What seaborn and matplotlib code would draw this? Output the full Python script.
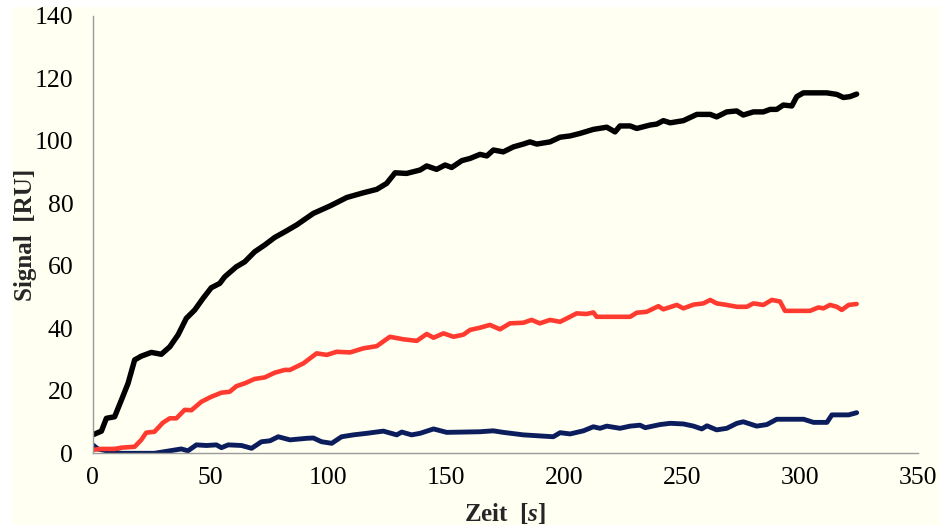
import matplotlib
matplotlib.use("Agg")
import matplotlib.pyplot as plt
import seaborn as sns
import pandas as pd
from matplotlib.patches import Rectangle

# ---- data ----
black_t = [0, 3.7, 5.8, 9.3, 12.2, 15, 17.8, 20.6, 24.9, 29.1, 32.7, 36.2, 39.7, 43.3,
           46.8, 50.3, 53.9, 56, 60.9, 64.5, 68.7, 73, 77.2, 81.5, 86.5, 93.6, 100.7,
           107.8, 114.8, 120.5, 124.7, 128.3, 133.2, 138.9, 141.7, 145.9, 149.5, 152.3,
           156.6, 160.1, 164.3, 167.2, 170, 174.2, 178.5, 182.7, 185.5, 188.4, 194,
           198.3, 202.5, 206.7, 212.4, 218.1, 221.6, 223.7, 228, 230.8, 236.5, 239.3,
           242.1, 245, 250.6, 256.3, 262, 264.7, 269, 273.2, 276, 280.3, 284.5, 287.4,
           290.2, 293, 296.6, 298.7, 301.5, 311.4, 315.7, 318.5, 321.3, 324.1]
black_v = [5.9, 7.1, 11.2, 11.7, 17.1, 22.4, 29.9, 31.1, 32.3, 31.7, 34.1, 37.9, 43.2, 45.9,
           49.6, 53.0, 54.4, 56.5, 59.7, 61.3, 64.5, 66.7, 69.1, 70.9, 73.1, 76.8, 79.2,
           81.9, 83.4, 84.5, 86.4, 89.8, 89.6, 90.7, 92.0, 90.9, 92.3, 91.5,
           93.7, 94.4, 95.7, 95.2, 97.1, 96.5, 98.1, 99.0, 99.7, 99.0, 99.7,
           101.2, 101.6, 102.4, 103.7, 104.4, 102.9, 104.8, 104.8, 104.0, 105.1, 105.4,
           106.5, 105.8, 106.5, 108.5, 108.5, 107.7, 109.3, 109.6, 108.3, 109.3, 109.3, 110.1,
           110.1, 111.5, 111.2, 114.2, 115.4, 115.4, 114.9, 113.9, 114.2, 115.0]

red_t = [0, 3.7, 9.3, 12.2, 17.8, 20.6, 22.7, 26.2, 29.8, 32.7, 35.5, 39, 41.9, 46.1, 50.3,
         54.6, 58.1, 61, 64.5, 68.7, 73, 77.2, 81.5, 83.7, 89.4, 95, 99.3, 103.5, 109.2,
         114.8, 120.5, 126.1, 131.8, 137.5, 141.7, 144.6, 148.8, 153.1, 157.3, 160.1,
         164.3, 168.5, 172.8, 177, 182.7, 186.2, 189.7, 194, 198.3, 202.5, 205.3, 209.5,
         212.4, 213.8, 228, 230.8, 235, 240, 242.1, 247.8, 250.6, 254.9, 259.1, 262,
         264.7, 269, 273.3, 277.5, 280.3, 284.5, 288.1, 291.6, 293.7, 304.3, 307.9, 310,
         312.8, 315.7, 317.8, 320.7, 324.1]
red_v = [1.1, 1.4, 1.4, 1.8, 2.1, 4.3, 6.6, 6.9, 9.8, 11.2, 11.2, 13.9, 13.8, 16.5, 18.1,
         19.4, 19.7, 21.5, 22.4, 23.8, 24.3, 25.8, 26.7, 26.7, 28.8, 32.0, 31.5, 32.5, 32.3,
         33.6, 34.3, 37.3, 36.5, 36.0, 38.2, 37.0, 38.4, 37.3, 38.0, 39.5,
         40.2, 41.1, 39.7, 41.6, 41.8, 42.7, 41.6, 42.7, 42.1, 43.7, 44.8, 44.6,
         45.1, 43.7, 43.7, 45.0, 45.3, 47.1, 46.1, 47.5, 46.4, 47.6, 48.0, 49.1,
         48.0, 47.5, 46.9, 46.9, 48.0, 47.5, 49.1, 48.6, 45.6, 45.6, 46.7, 46.4,
         47.5, 46.9, 45.9, 47.5, 47.8]

navy_t = [0, 2.2, 6.5, 12.2, 26.2, 31.9, 37.6, 40.4, 44, 48.2, 52.5, 54.6, 57.5, 63.1,
          67.4, 71.6, 75.2, 78.7, 83.7, 90.8, 93.6, 97.1, 101.4, 105.6, 110.6, 116.3,
          123.3, 129, 131.1, 135.3, 138.9, 144.6, 150.2, 157.3, 164.3, 169.9, 174.2,
          182.7, 195.4, 198.3, 202.5, 208.2, 212.4, 215.2, 218.1, 223.7, 228, 232.2,
          234.4, 240.7, 245, 250.6, 254.9, 258.4, 260.6, 264.7, 269, 273.3, 276, 281.7,
          286, 290.2, 301.6, 305.8, 311.5, 313.6, 320.7, 324.1]
navy_v = [2.7, 1.4, 0.7, 0, 0, 0.7, 1.4, 0.8, 2.7, 2.5, 2.7, 1.8, 2.7, 2.5,
          1.6, 3.7, 4.0, 5.3, 4.3, 4.8, 4.9, 3.7, 3.2, 5.3, 5.9, 6.4,
          7.1, 5.9, 6.8, 5.9, 6.4, 7.8, 6.7, 6.8, 6.9, 7.2, 6.7,
          5.9, 5.3, 6.6, 6.2, 7.2, 8.5, 8.0, 8.7, 8.0, 8.7, 9.0,
          8.2, 9.2, 9.6, 9.4, 8.7, 7.8, 8.8, 7.5, 8.0, 9.6, 10.1, 8.7,
          9.2, 10.9, 10.9, 9.9, 9.9, 12.3, 12.3, 13.0]

x_ticks = [0, 50, 100, 150, 200, 250, 300, 350]
y_ticks = [0, 20, 40, 60, 80, 100, 120, 140]
x_label = r"Zeit  [$\mathbfit{s}$]"
y_label = "Signal  [RU]"

# ---- styling ----
sns.set_style("white")
plt.rcParams["font.family"] = ["Liberation Serif", "DejaVu Serif"]
plt.rcParams["mathtext.fontset"] = "custom"
plt.rcParams["mathtext.it"] = "Liberation Serif:italic"
plt.rcParams["mathtext.bfit"] = "Liberation Serif:bold:italic"
plt.rcParams["mathtext.rm"] = "Liberation Serif"

cream = "#FFFFF2"
fig = plt.figure(figsize=(9.4, 5.25), dpi=100, facecolor="white")
fig.patches.append(Rectangle((12 / 940, 0), 1 - 12 / 940, 1 - 7 / 525,
                             transform=fig.transFigure, facecolor=cream,
                             edgecolor="none", zorder=-10))
ax = fig.add_axes([92.7 / 940, 1 - 453.3 / 525, 825 / 940, 437.3 / 525])
ax.set_facecolor(cream)
ax.set_zorder(5)

df_b = pd.DataFrame({"t": black_t, "v": black_v})
df_r = pd.DataFrame({"t": red_t, "v": red_v})
df_n = pd.DataFrame({"t": navy_t, "v": navy_v})

line_kw = dict(estimator=None, sort=False, solid_joinstyle="round",
               solid_capstyle="round")
sns.lineplot(data=df_n, x="t", y="v", ax=ax, color="#0B1D5C", linewidth=3.5, **line_kw)
sns.lineplot(data=df_r, x="t", y="v", ax=ax, color="#FF3B30", linewidth=3.3, **line_kw)
sns.lineplot(data=df_b, x="t", y="v", ax=ax, color="black", linewidth=3.9, **line_kw)

ax.set_xlim(0, 350)
ax.set_ylim(0, 140)
ax.set_xticks(x_ticks)
ax.set_yticks(y_ticks)

for s in ["top", "right"]:
    ax.spines[s].set_visible(False)
for s in ["left", "bottom"]:
    ax.spines[s].set_color("#9A9A9A")
    ax.spines[s].set_linewidth(1.0)

ax.tick_params(axis="both", which="major", direction="out", length=5, width=1.0,
               color="#9A9A9A", labelsize=18.5, labelcolor="black")
ax.tick_params(axis="y", pad=9)
ax.tick_params(axis="x", pad=5)

ax.set_xlabel(x_label, fontsize=18, fontweight="bold")
ax.set_ylabel(y_label, fontsize=18, fontweight="bold")
ax.xaxis.set_label_coords(0.5, -0.108)
ax.yaxis.set_label_coords(-0.0675, 0.5)

fig.savefig("out.png", dpi=100, facecolor=fig.get_facecolor())
